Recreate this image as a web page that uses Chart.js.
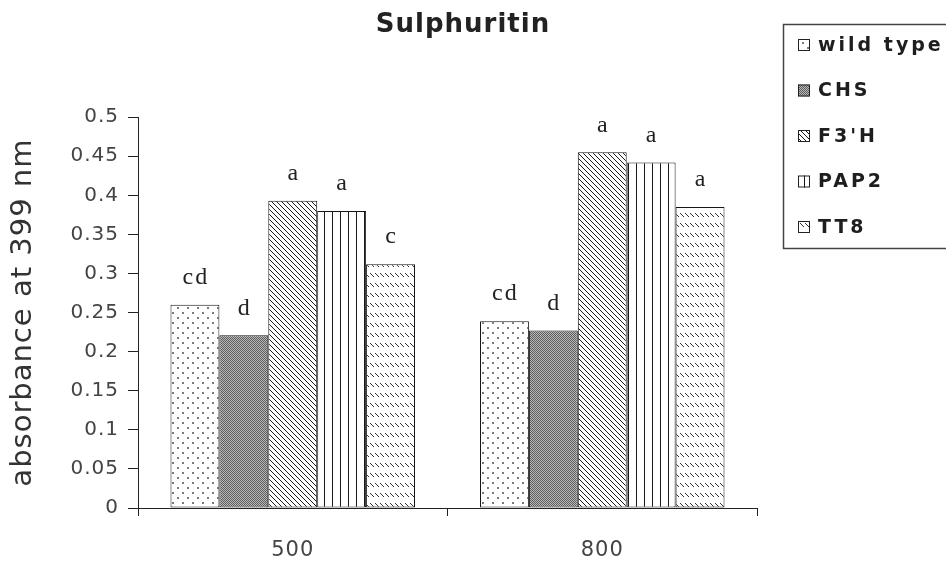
<!DOCTYPE html>
<html>
<head>
<meta charset="utf-8">
<title>Sulphuritin</title>
<script src="https://cdn.jsdelivr.net/npm/chart.js@4.4.1/dist/chart.umd.min.js"></script>
<style>
  html, body { margin: 0; padding: 0; background: #fff; }
</style>
</head>
<body>
<canvas id="chart" width="946" height="562"></canvas>
<script>
const categories = ['500', '800'];
const seriesNames = ['wild type', 'CHS', "F3'H", 'PAP2', 'TT8'];

const wildType = [0.260, 0.239];
const chs = [0.221, 0.227];
const f3h = [0.393, 0.455];
const pap2 = [0.380, 0.442];
const tt8 = [0.312, 0.385];

// significance letters written above each bar
const wildTypeLetters = ['cd', 'cd'];
const chsLetters = ['d', 'd'];
const f3hLetters = ['a', 'a'];
const pap2Letters = ['a', 'a'];
const tt8Letters = ['c', 'a'];

const yTickLabels = ['0', '0.05', '0.1', '0.15', '0.2', '0.25', '0.3', '0.35', '0.4', '0.45', '0.5'];

const sans = "'DejaVu Sans', Arial, sans-serif";
const serif = "'Liberation Serif', 'Times New Roman', serif";

function makePattern(w, h, paint) {
    const c = document.createElement('canvas');
    c.width = w;
    c.height = h;
    const g = c.getContext('2d');
    g.fillStyle = '#fff';
    g.fillRect(0, 0, w, h);
    paint(g);
    return g.createPattern(c, 'repeat');
}

const dotted = makePattern(10, 10, g => {
    g.fillStyle = '#7a7a7a';
    g.fillRect(2, 2, 2, 2);
    g.fillRect(7, 7, 2, 2);
});
const checker = makePattern(2, 2, g => {
    g.fillStyle = '#b8b8b8';
    g.fillRect(0, 0, 2, 2);
    g.fillStyle = '#5e5e5e';
    g.fillRect(0, 0, 1, 1);
    g.fillRect(1, 1, 1, 1);
});
const diagonal = makePattern(5, 5, g => {
    g.fillStyle = '#1a1a1a';
    for (let i = 0; i < 5; i++) g.fillRect(i, i, 1, 1);
});
const vertical = makePattern(8, 2, g => {
    g.fillStyle = '#1a1a1a';
    g.fillRect(4, 0, 1, 2);
});
const dashes = makePattern(5, 10, g => {
    g.fillStyle = '#333';
    for (let i = 0; i < 4; i++) g.fillRect(i, 3 + i, 1, 1);
});

const allValues = [wildType, chs, f3h, pap2, tt8];
const allLetters = [wildTypeLetters, chsLetters, f3hLetters, pap2Letters, tt8Letters];
const fills = [dotted, checker, diagonal, vertical, dashes];

const datasets = seriesNames.map((name, i) => ({
    label: name,
    data: allValues[i],
    backgroundColor: fills[i],
    borderColor: '#151515',
    borderWidth: 1,
    borderSkipped: false,
    categoryPercentage: 0.79,
    barPercentage: 1.0
}));

const spacing = {
    id: 'spacing',
    beforeDraw(chart) {
        chart.ctx.letterSpacing = '1px';
    }
};

const barLetters = {
    id: 'barLetters',
    afterDatasetsDraw(chart) {
        const ctx = chart.ctx;
        ctx.save();
        ctx.letterSpacing = '2px';
        ctx.font = '24px ' + serif;
        ctx.fillStyle = '#222';
        ctx.textAlign = 'center';
        ctx.textBaseline = 'middle';
        chart.data.datasets.forEach((ds, i) => {
            chart.getDatasetMeta(i).data.forEach((bar, j) => {
                ctx.fillText(allLetters[i][j], bar.x + 1, bar.y - 27);
            });
        });
        ctx.restore();
    }
};

const boxLegend = {
    id: 'boxLegend',
    afterDraw(chart) {
        const ctx = chart.ctx;
        ctx.save();
        ctx.strokeStyle = '#444';
        ctx.lineWidth = 1.5;
        ctx.strokeRect(783.5, 24.5, 200, 224);
        ctx.letterSpacing = '3px';
        ctx.font = 'bold 19px ' + sans;
        ctx.textBaseline = 'middle';
        chart.data.datasets.forEach((ds, i) => {
            const y = 45 + i * 45.5;
            ctx.fillStyle = ds.backgroundColor;
            ctx.fillRect(798, y - 6, 12, 12);
            ctx.lineWidth = 1;
            ctx.strokeStyle = '#222';
            ctx.strokeRect(798.5, y - 5.5, 11, 11);
            ctx.fillStyle = '#1e1e1e';
            ctx.fillText(ds.label, 818, y + 1);
        });
        ctx.restore();
    }
};

const ctx = document.getElementById('chart').getContext('2d');
const chart = new Chart(ctx, {
    type: 'bar',
    data: {
        labels: categories,
        datasets: datasets
    },
    options: {
        responsive: false,
        animation: false,
        devicePixelRatio: 1,
        layout: { padding: { right: 20 } },
        scales: {
            x: {
                offset: true,
                grid: {
                    offset: true,
                    drawOnChartArea: false,
                    tickLength: 8,
                    color: '#222'
                },
                border: { color: '#222', width: 1 },
                ticks: {
                    color: '#444',
                    font: { family: sans, size: 21 },
                    padding: 22
                },
                afterFit(scale) { scale.height = 54; }
            },
            y: {
                min: 0,
                max: 0.5,
                grid: {
                    drawOnChartArea: false,
                    tickLength: 10,
                    color: '#222'
                },
                border: { color: '#222', width: 1 },
                ticks: {
                    stepSize: 0.05,
                    color: '#444',
                    font: { family: sans, size: 20 },
                    padding: 9,
                    callback: (v, i) => yTickLabels[i]
                },
                title: {
                    display: true,
                    text: 'absorbance at 399 nm',
                    color: '#333',
                    font: { family: sans, size: 29 },
                    padding: { top: 6, bottom: 0 }
                },
                afterFit(scale) { scale.width = 138; }
            },
            legendSpace: {
                type: 'linear',
                position: 'right',
                grid: { display: false },
                border: { display: false },
                ticks: { display: false },
                afterFit(scale) { scale.width = 169; }
            }
        },
        plugins: {
            legend: { display: false },
            tooltip: { enabled: false },
            title: {
                display: true,
                text: 'Sulphuritin',
                color: '#222',
                font: { family: sans, size: 26, weight: 'bold' },
                padding: { top: 10, bottom: 76 }
            }
        }
    },
    plugins: [spacing, barLetters, boxLegend]
});
</script>
</body>
</html>
